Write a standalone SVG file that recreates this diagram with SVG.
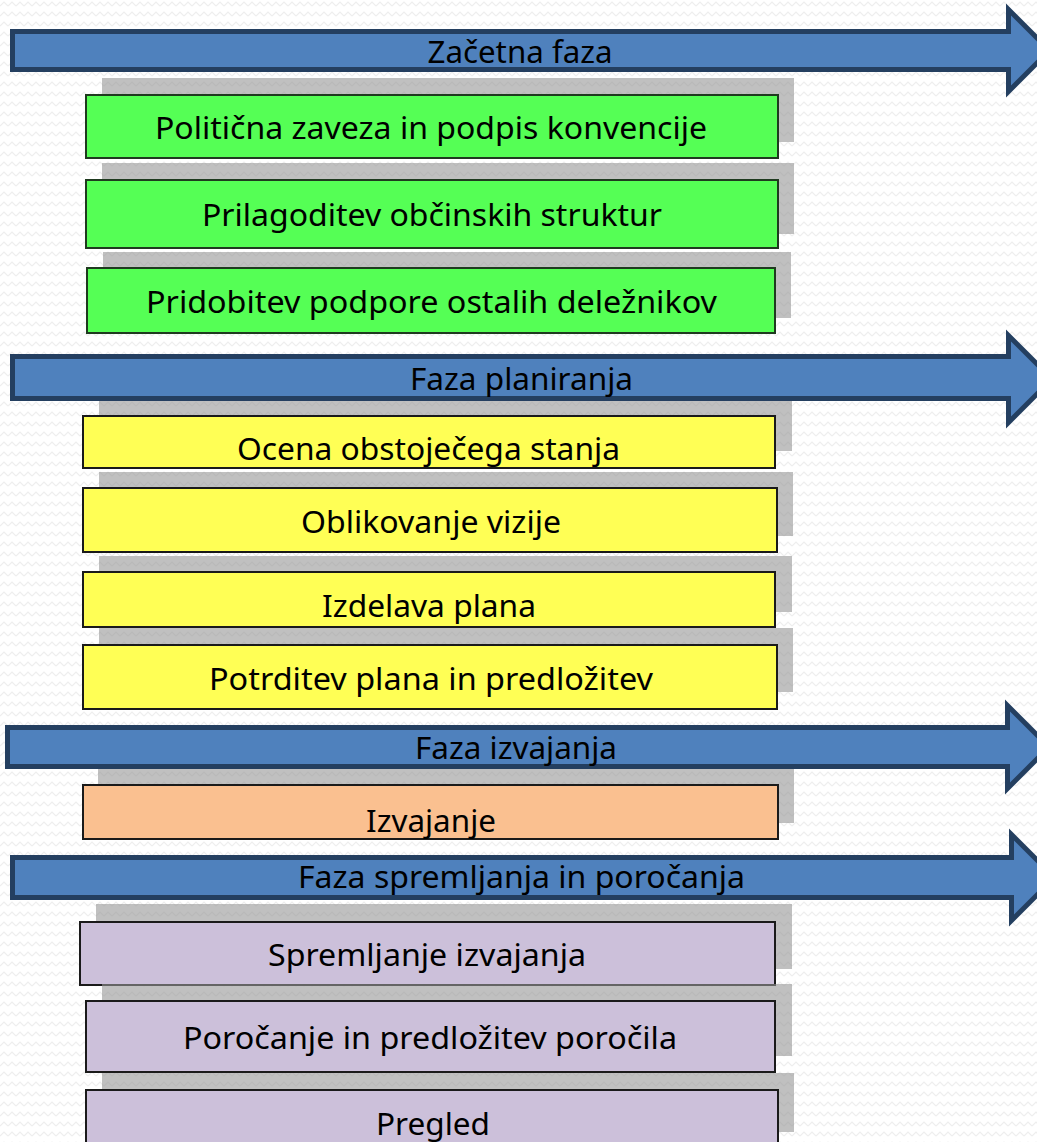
<svg xmlns="http://www.w3.org/2000/svg" width="1037" height="1142" viewBox="0 0 1037 1142">
<defs>
<pattern id="bg" width="8" height="10" patternUnits="userSpaceOnUse">
<path d="M0,6 L4,2 L8,6" fill="none" stroke="#eeeeee" stroke-width="1.2"/>
</pattern>
<style>
.arrow{fill:#4F81BD;stroke:#243F60;stroke-width:5;stroke-linejoin:miter}
.sh{fill:#969696;opacity:0.6}
.box{stroke:#1a1a1a;stroke-width:2}
.g{fill:#55FF55;stroke:#1f3a1f}
.y{fill:#FFFF55}
.o{fill:#FAC090}
.p{fill:#CCC0DA}
text{font-family:"Noto Sans","Open Sans",sans-serif;font-size:30px;fill:#000;text-anchor:middle}
</style>
</defs>
<rect width="1037" height="1142" fill="#ffffff"/>
<rect width="1037" height="1142" fill="url(#bg)"/>

<g id="phase1-items">
<g id="n-politicna">
<rect class="sh" x="102" y="78" width="692" height="64"/>
<rect class="box g" x="86" y="95" width="692" height="63"/>
<text x="431" y="139" textLength="552" lengthAdjust="spacingAndGlyphs">Politična zaveza in podpis konvencije</text>
</g>
<g id="n-prilagoditev">
<rect class="sh" x="102" y="163" width="692" height="71"/>
<rect class="box g" x="86" y="180" width="692" height="68"/>
<text x="432" y="226" textLength="460" lengthAdjust="spacingAndGlyphs">Prilagoditev občinskih struktur</text>
</g>
<g id="n-pridobitev">
<rect class="sh" x="103" y="252" width="688" height="66"/>
<rect class="box g" x="87" y="268" width="688" height="65"/>
<text x="431.5" y="313" textLength="571" lengthAdjust="spacingAndGlyphs">Pridobitev podpore ostalih deležnikov</text>
</g>
</g>

<g id="phase2-items">
<g id="n-ocena">
<rect class="sh" x="99" y="399" width="693" height="52"/>
<rect class="box y" x="83" y="416" width="692" height="52"/>
<text x="428.5" y="460" textLength="383" lengthAdjust="spacingAndGlyphs">Ocena obstoječega stanja</text>
</g>
<g id="n-oblikovanje">
<rect class="sh" x="99" y="472" width="694" height="64"/>
<rect class="box y" x="83" y="488" width="694" height="64"/>
<text x="431" y="533" textLength="260" lengthAdjust="spacingAndGlyphs">Oblikovanje vizije</text>
</g>
<g id="n-izdelava">
<rect class="sh" x="99" y="556" width="693" height="56"/>
<rect class="box y" x="83" y="572" width="692" height="55"/>
<text x="429" y="617" textLength="214" lengthAdjust="spacingAndGlyphs">Izdelava plana</text>
</g>
<g id="n-potrditev">
<rect class="sh" x="99" y="628" width="694" height="64"/>
<rect class="box y" x="83" y="645" width="694" height="64"/>
<text x="431" y="690" textLength="444" lengthAdjust="spacingAndGlyphs">Potrditev plana in predložitev</text>
</g>
</g>

<g id="phase3-items">
<g id="n-izvajanje">
<rect class="sh" x="98" y="769" width="696" height="54"/>
<rect class="box o" x="83" y="785" width="695" height="54"/>
<text x="431" y="832" textLength="130" lengthAdjust="spacingAndGlyphs">Izvajanje</text>
</g>
</g>

<g id="phase4-items">
<g id="n-spremljanje">
<rect class="sh" x="96" y="904" width="696" height="65"/>
<rect class="box p" x="80" y="922" width="695" height="63"/>
<text x="427" y="966" textLength="318" lengthAdjust="spacingAndGlyphs">Spremljanje izvajanja</text>
</g>
<g id="n-porocanje">
<rect class="sh" x="102" y="984" width="690" height="72"/>
<rect class="box p" x="86" y="1001" width="689" height="71"/>
<text x="430" y="1049" textLength="494" lengthAdjust="spacingAndGlyphs">Poročanje in predložitev poročila</text>
</g>
<g id="n-pregled">
<rect class="sh" x="102" y="1073" width="692" height="59"/>
<rect class="box p" x="86" y="1090" width="692" height="60"/>
<text x="433" y="1135" textLength="114" lengthAdjust="spacingAndGlyphs">Pregled</text>
</g>
</g>

<g id="connectors">
<g id="arrow-zacetna">
<path class="arrow" d="M12.5,31.5 H1008.5 V9.5 L1049.5,50.5 L1008.5,91.5 V69.5 H12.5 Z"/>
<text x="520" y="63" textLength="185" lengthAdjust="spacingAndGlyphs">Začetna faza</text>
</g>
<g id="arrow-planiranja">
<path class="arrow" d="M12.5,356.5 H1008.5 V335.5 L1052,379 L1008.5,422.5 V398.5 H12.5 Z"/>
<text x="521.5" y="390" textLength="223" lengthAdjust="spacingAndGlyphs">Faza planiranja</text>
</g>
<g id="arrow-izvajanja">
<path class="arrow" d="M7.5,727.5 H1007.5 V705.5 L1049,747 L1007.5,788.5 V766.5 H7.5 Z"/>
<text x="516" y="759" textLength="202" lengthAdjust="spacingAndGlyphs">Faza izvajanja</text>
</g>
<g id="arrow-spremljanja">
<path class="arrow" d="M12.5,857.5 H1011.5 V834.5 L1054.5,877.5 L1011.5,920.5 V897.5 H12.5 Z"/>
<text x="521.5" y="888" textLength="447" lengthAdjust="spacingAndGlyphs">Faza spremljanja in poročanja</text>
</g>
</g>
</svg>
